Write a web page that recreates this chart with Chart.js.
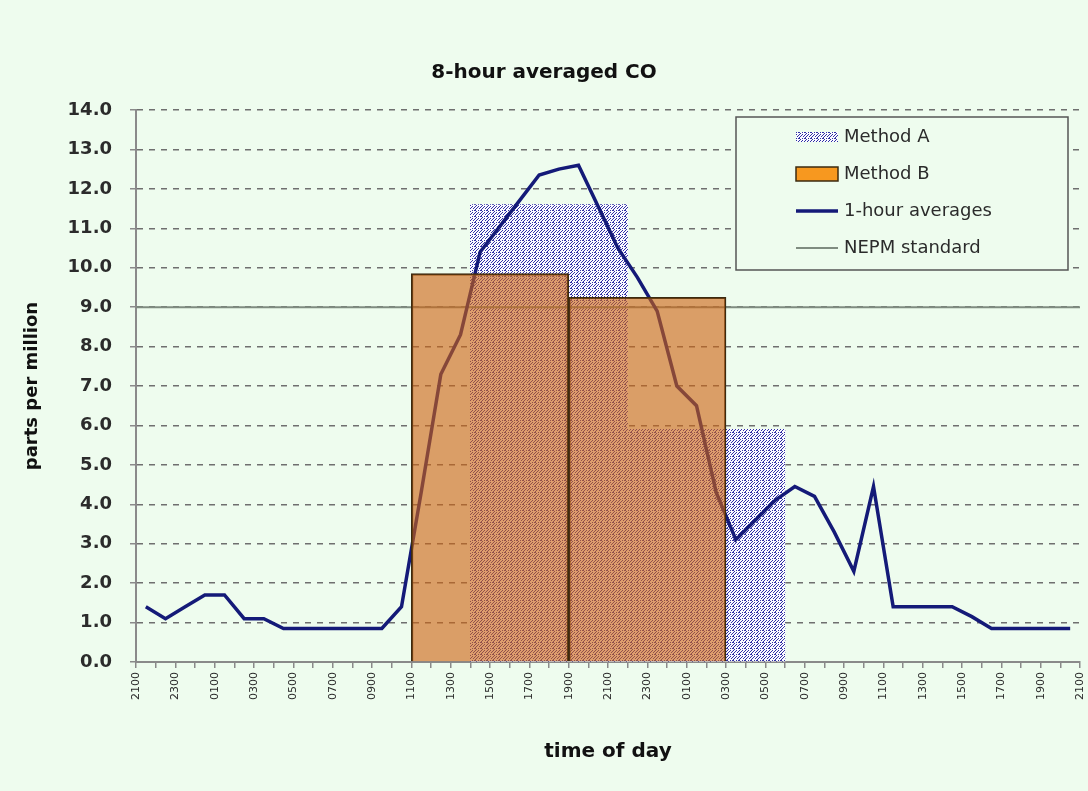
<!DOCTYPE html>
<html>
<head>
<meta charset="utf-8">
<title>8-hour averaged CO</title>
<script src="https://cdn.jsdelivr.net/npm/chart.js@4/dist/chart.umd.min.js"></script>
<style>
  html, body { margin: 0; padding: 0; background: #eefcee; }
  #wrap { width: 1088px; height: 791px; position: relative; }
</style>
</head>
<body>
<div id="wrap"><canvas id="chart"></canvas></div>
<script>
// 8-hour averaged CO — 1-hour averages vs two 8-hour windowing methods

// x axis: hours counted from 2100 on day 1 (0) to 2100 on day 3 (48)
const xTickLabels = ['2100', '2300', '0100', '0300', '0500', '0700', '0900', '1100', '1300',
  '1500', '1700', '1900', '2100', '2300', '0100', '0300', '0500', '0700', '0900', '1100',
  '1300', '1500', '1700', '1900', '2100'];
const xMin = 0;
const xMax = 48;

// 1-hour averages, one per hour starting 2100 (ppm)
const hourlyCO = [1.4, 1.1, 1.4, 1.7, 1.7, 1.1, 1.1, 0.85, 0.85, 0.85, 0.85, 0.85,
  0.85, 1.4, 4.3, 7.3, 8.3, 10.4, 11.05, 11.7, 12.35, 12.5, 12.6, 11.55,
  10.5, 9.75, 8.9, 7.0, 6.5, 4.3, 3.1, 3.6, 4.1, 4.45, 4.2, 3.3,
  2.3, 4.45, 1.4, 1.4, 1.4, 1.4, 1.15, 0.85, 0.85, 0.85, 0.85, 0.85];

// 8-hour windows: start hour + averaged value
const windowHours = 8;
const methodAStart = [17, 25];
const methodAValue = [11.6, 5.9];
const methodBStart = [14, 22];
const methodBValue = [9.85, 9.25];

const nepmStandard = 9.0;

const yTicks = { min: 0, max: 14, step: 1 };

const BG = '#eefcee';
const COLORS = {
  line: '#141a78',
  nepm: '#7f8c80',
  orange: 'rgba(205,100,20,0.62)',
  orangeLegend: '#f7981f',
  orangeBorder: '#3b2a10',
  grid: '#6f6f6f',
  axis: '#8a8a8a',
  text: '#2b2b2b',
};
const FONT = 'DejaVu Sans, Verdana, sans-serif';

const canvas = document.getElementById('chart');

// speckled fill for Method A (N = blue pixel)
const dotPattern = (() => {
  const motif = ['NN..N.', '..N...', '.N..N.', 'N..N..', '..N..N', '.N....'];
  const c = document.createElement('canvas');
  c.width = 6; c.height = 6;
  const g = c.getContext('2d');
  g.fillStyle = '#fafaff';
  g.fillRect(0, 0, 6, 6);
  g.fillStyle = '#3030a4';
  motif.forEach((row, y) => [...row].forEach((ch, x) => { if (ch === 'N') g.fillRect(x, y, 1, 1); }));
  return canvas.getContext('2d').createPattern(c, 'repeat');
})();

const toBars = (starts, values) => starts.map((s, i) => ({ x: s + windowHours / 2, y: values[i] }));

// hidden axis per bar method, so each bar spans its full 8-hour window
const windowAxis = () => ({
  type: 'linear', display: false, offset: false,
  min: xMin, max: xMax,
  grid: { offset: false },
  ticks: { stepSize: windowHours },
});

// legend box inside the plot, top right
const legendBox = {
  id: 'legendBox',
  afterDraw(chart) {
    const { ctx, chartArea } = chart;
    const w = 332, h = 153;
    const x0 = chartArea.right - w - 12;
    const y0 = chartArea.top + 7;
    ctx.save();
    ctx.fillStyle = BG;
    ctx.fillRect(x0, y0, w, h);
    ctx.strokeStyle = '#555';
    ctx.lineWidth = 1.5;
    ctx.strokeRect(x0, y0, w, h);
    ctx.font = `18px ${FONT}`;
    ctx.textBaseline = 'middle';
    const sx = x0 + 60, sw = 42;
    chart.data.datasets.forEach((ds, i) => {
      const cy = y0 + 20 + i * 37;
      if (ds.kind === 'patternBar') {
        ctx.fillStyle = dotPattern;
        ctx.fillRect(sx, cy - 5, sw, 10);
      } else if (ds.kind === 'bar') {
        ctx.fillStyle = COLORS.orangeLegend;
        ctx.fillRect(sx, cy - 7, sw, 14);
        ctx.strokeStyle = COLORS.orangeBorder;
        ctx.lineWidth = 1.5;
        ctx.strokeRect(sx, cy - 7, sw, 14);
      } else {
        ctx.strokeStyle = ds.borderColor;
        ctx.lineWidth = ds.borderWidth;
        ctx.beginPath();
        ctx.moveTo(sx, cy);
        ctx.lineTo(sx + sw, cy);
        ctx.stroke();
      }
      ctx.fillStyle = COLORS.text;
      ctx.fillText(ds.label, sx + 48, cy);
    });
    ctx.restore();
  },
};

new Chart(canvas, {
  data: {
    datasets: [
      {
        type: 'bar', kind: 'patternBar',
        label: 'Method A',
        data: toBars(methodAStart, methodAValue),
        xAxisID: 'xa',
        backgroundColor: dotPattern,
        borderWidth: 0,
        grouped: false,
        barPercentage: 1, categoryPercentage: 1,
        order: 4,
      },
      {
        type: 'bar', kind: 'bar',
        label: 'Method B',
        data: toBars(methodBStart, methodBValue),
        xAxisID: 'xb',
        backgroundColor: COLORS.orange,
        borderColor: COLORS.orangeBorder,
        borderWidth: 1.5,
        grouped: false,
        barPercentage: 1, categoryPercentage: 1,
        order: 1,
      },
      {
        type: 'line', kind: 'line',
        label: '1-hour averages',
        data: hourlyCO.map((v, i) => ({ x: i + 0.5, y: v })),
        xAxisID: 'x',
        borderColor: COLORS.line,
        borderWidth: 3.5,
        pointRadius: 0,
        tension: 0,
        order: 2,
      },
      {
        type: 'line', kind: 'line',
        label: 'NEPM standard',
        data: [{ x: xMin, y: nepmStandard }, { x: xMax, y: nepmStandard }],
        xAxisID: 'x',
        borderColor: COLORS.nepm,
        borderWidth: 2,
        pointRadius: 0,
        order: 3,
      },
    ],
  },
  options: {
    responsive: true,
    maintainAspectRatio: false,
    animation: false,
    layout: { padding: { left: 0, right: 0, top: 0, bottom: 0 } },
    plugins: {
      legend: { display: false },
      tooltip: { enabled: false },
      title: {
        display: true,
        text: '8-hour averaged CO',
        color: '#111',
        font: { family: FONT, size: 20, weight: 'bold' },
        padding: { top: 61, bottom: 25 },
      },
    },
    scales: {
      x: {
        type: 'linear',
        position: 'bottom',
        min: xMin, max: xMax,
        offset: false,
        afterFit: (s) => { s.height = 129; s.paddingLeft = 0; s.paddingRight = 8; },
        ticks: {
          stepSize: 1,
          autoSkip: false,
          minRotation: 90, maxRotation: 90,
          padding: 4,
          color: COLORS.text,
          font: { family: FONT, size: 11 },
          callback: (v) => (v % 2 === 0 ? xTickLabels[v / 2] : ''),
        },
        grid: { drawOnChartArea: false, drawTicks: true, tickLength: 6, color: COLORS.axis, lineWidth: 1.5 },
        border: { display: true, color: COLORS.axis, width: 2 },
        title: {
          display: true,
          text: 'time of day',
          color: '#111',
          font: { family: FONT, size: 20, weight: 'bold' },
          padding: { top: 0, bottom: 27 },
        },
      },
      xa: windowAxis(),
      xb: windowAxis(),
      y: {
        min: yTicks.min, max: yTicks.max,
        afterFit: (s) => { s.width = 136; },
        ticks: {
          stepSize: yTicks.step,
          padding: 18,
          color: COLORS.text,
          font: { family: FONT, size: 18, weight: 'bold' },
          callback: (v) => v.toFixed(1),
        },
        grid: {
          color: COLORS.grid, lineWidth: 1.5,
          tickLength: 6, tickColor: COLORS.axis, tickWidth: 1.5, tickBorderDash: [],
        },
        border: { display: true, color: COLORS.axis, width: 2, dash: [6, 6] },
        title: {
          display: true,
          text: 'parts per million',
          color: '#111',
          font: { family: FONT, size: 18, weight: 'bold' },
          padding: { top: 22, bottom: 0 },
        },
      },
    },
  },
  plugins: [legendBox],
});
</script>
</body>
</html>
